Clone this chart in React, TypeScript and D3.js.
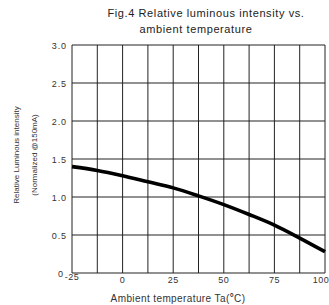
import React from "react";
import * as d3 from "d3";

const temps = [-25, -12.5, 0, 12.5, 25, 37.5, 50, 62.5, 75, 87.5, 100];
const intensity = [1.4, 1.35, 1.28, 1.2, 1.12, 1.015, 0.9, 0.77, 0.63, 0.46, 0.28];
const xTicks = [-25, 0, 25, 50, 75, 100];
const xGrid = [-25, -12.5, 0, 12.5, 25, 37.5, 50, 62.5, 75, 87.5, 100];
const yTicks = [0, 0.5, 1.0, 1.5, 2.0, 2.5, 3.0];
const yTickLabels = ["0", "0.5", "1.0", "1.5", "2.0", "2.5", "3.0"];
const titleLines = ["Fig.4 Relative luminous intensity vs.", "ambient temperature"];
const yLabelLines = ["Relative Luminous intensity", "(Normalized @150mA)"];

export default function App() {
  const W = 329, H = 305;
  const x = d3.scaleLinear().domain([-25, 100]).range([72, 325]);
  const y = d3.scaleLinear().domain([0, 3]).range([273, 45]);
  const line = d3
    .line<number>()
    .x((_, i) => x(temps[i]))
    .y((d) => y(d))
    .curve(d3.curveMonotoneX);
  const font = "'Liberation Sans', Arial, sans-serif";
  return (
    <svg
      width={W}
      height={H}
      style={{ position: "absolute", left: 0, top: 0, background: "#fff" }}
      fontFamily={font}
    >
      <text x={206} y={17} fontSize={11} letterSpacing={0.6} textAnchor="middle" fill="#222">
        {titleLines[0]}
      </text>
      <text x={196} y={33} fontSize={11} letterSpacing={0.6} textAnchor="middle" fill="#222">
        {titleLines[1]}
      </text>
      {xGrid.map((t) => (
        <line key={"vx" + t} x1={x(t)} x2={x(t)} y1={y(3)} y2={y(0)} stroke="#222" strokeWidth={1} />
      ))}
      {yTicks.map((v) => (
        <line key={"hy" + v} x1={x(-25)} x2={x(100)} y1={y(v)} y2={y(v)} stroke="#222" strokeWidth={1} />
      ))}
      <path d={line(intensity) || ""} fill="none" stroke="#000" strokeWidth={3.6} />
      {yTicks.map((v, i) => (
        <text key={"yl" + v} x={v === 0 ? 64 : 67} y={y(v) + 3.5} fontSize={9} letterSpacing={0.9} textAnchor="end" fill="#333">
          {yTickLabels[i]}
        </text>
      ))}
      {xTicks.map((t) => (
        <text key={"xl" + t} x={t === 100 ? 321 : x(t)} y={t === -25 ? 280 : 283} fontSize={9} letterSpacing={0.5} textAnchor="middle" fill="#333">
          {String(t)}
        </text>
      ))}
      <text x={178} y={302} fontSize={10} letterSpacing={0.4} textAnchor="middle" fill="#333">
        Ambient temperature Ta(<tspan fontWeight="bold" dy={-1}>°</tspan>
        <tspan dy={1}>C)</tspan>
      </text>
      <text transform="translate(19,155) rotate(-90)" fontSize={8} textAnchor="middle" fill="#333">
        {yLabelLines[0]}
      </text>
      <text transform="translate(37,155) rotate(-90)" fontSize={8} textAnchor="middle" fill="#333">
        {yLabelLines[1]}
      </text>
    </svg>
  );
}
